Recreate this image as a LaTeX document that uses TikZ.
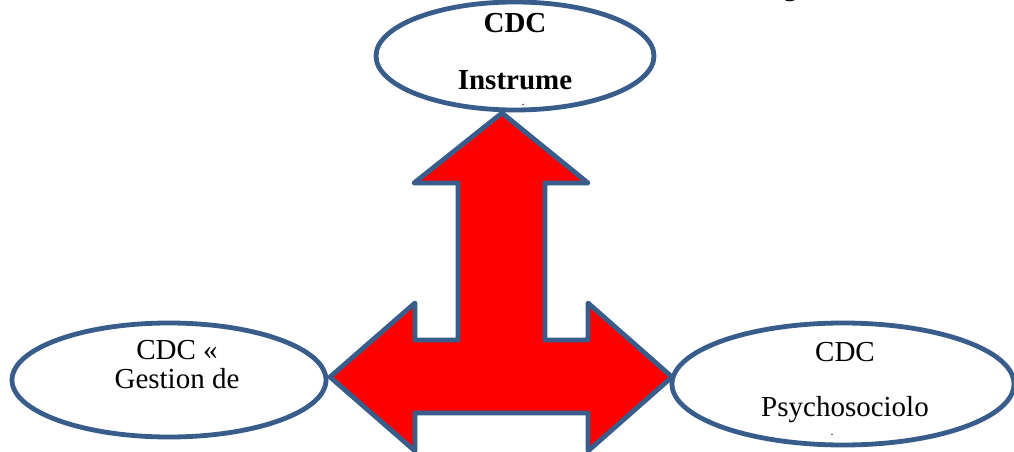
\documentclass[tikz,border=0pt]{standalone}
\usepackage{fontspec}
\setmainfont{Liberation Serif}
\usetikzlibrary{shapes.geometric}
\definecolor{edgeblue}{RGB}{56,93,138}
\definecolor{arrowred}{RGB}{255,0,0}
\begin{document}
\begin{tikzpicture}[x=1pt,y=-1pt,
  oval/.style={draw=edgeblue,line width=4.8pt,fill=white},
  lbl/.style={anchor=base,inner sep=0pt,font=\fontsize{29}{34}\selectfont},
  blbl/.style={lbl,font=\fontsize{29}{34}\selectfont\bfseries},
  dotlbl/.style={anchor=base,inner sep=0pt,font=\fontsize{12}{14}\selectfont}]
\useasboundingbox (0,0) rectangle (1014,452);
\fill[white] (0,0) rectangle (1014,452);
% ellipses
\draw[oval] (515,56) ellipse [x radius=139, y radius=54];
\draw[oval] (169,380) ellipse [x radius=157, y radius=57];
\draw[oval] (843,384) ellipse [x radius=171, y radius=61];
% labels
\node[blbl] (t1) at (515,33) {CDC};
\node[blbl] (t2) at (515,89) {Instrume};
\node[dotlbl] (t3) at (523,105) {.};
\node[lbl] (l1) at (177,359) {CDC «};
\node[lbl] (l2) at (177,388) {Gestion de};
\node[lbl] (r1) at (845,361.5) {CDC};
\node[lbl] (r2) at (845,416.5) {Psychosociolo};
\node[dotlbl] (r3) at (832,435) {.};
\node[lbl] (cut) at (790,-4) {g};
% three-way arrow
\draw[fill=arrowred,draw=edgeblue,line width=4.8pt,line join=round]
  (502,113) -- (588,183) -- (545,183) -- (545,340) -- (588,340) -- (588,303)
  -- (672,377) -- (588,451) -- (588,413) -- (415,413) -- (415,451)
  -- (330,377) -- (415,303) -- (415,340) -- (458,340) -- (458,183)
  -- (414,183) -- cycle;
\end{tikzpicture}
\end{document}
